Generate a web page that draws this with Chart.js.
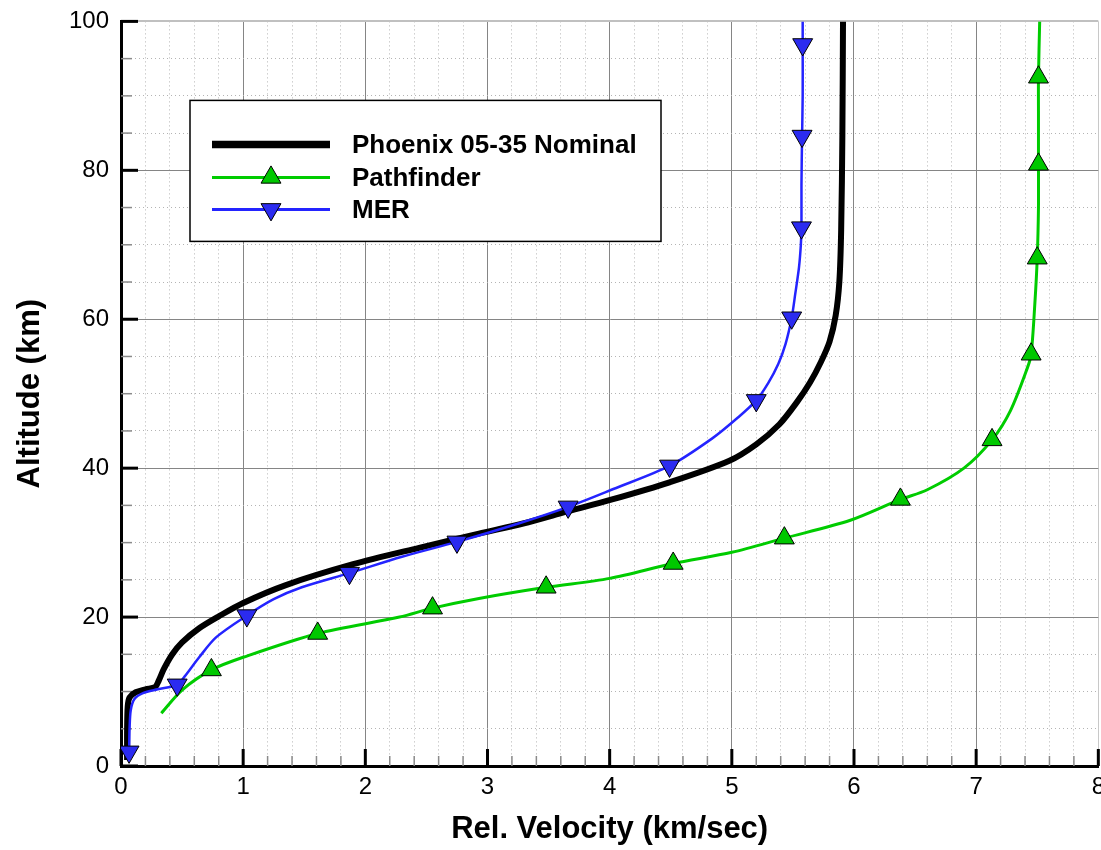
<!DOCTYPE html>
<html>
<head>
<meta charset="utf-8">
<script src="https://cdn.jsdelivr.net/npm/chart.js@4.4.1/dist/chart.umd.min.js"></script>
<style>
html,body{margin:0;padding:0;background:#fff;overflow:hidden;width:1101px;height:850px;}
canvas{display:block;margin-top:-5px;}
</style>
</head>
<body>
<canvas id="c" width="1112" height="855" style="width:1112px;height:855px"></canvas>
<script>
// ---------------- data ----------------
const seriesNames = ['Phoenix 05-35 Nominal', 'Pathfinder', 'MER'];
const xTickLabels = ['0','1','2','3','4','5','6','7','8'];
const yTickLabels = ['0','20','40','60','80','100'];
const xTitle = 'Rel. Velocity (km/sec)';
const yTitle = 'Altitude (km)';

// Phoenix 05-35 Nominal (velocity km/s, altitude km)
const phoenixV = [0.05,0.05,0.055,0.07,0.12,0.2,0.28,0.31,0.35,0.42,0.5,0.64,0.8,1.0,1.35,1.9,2.44,2.93,3.3,3.61,4.02,4.49,4.98,5.2,5.39,5.53,5.64,5.73,5.8,5.85,5.88,5.895,5.905,5.91];
const phoenixH = [0.8,5,8,9.2,9.9,10.3,10.6,11.5,13.0,15.0,16.6,18.5,20.1,21.9,24.3,27.1,29.3,31.2,32.6,34.0,35.8,38.1,41.0,43.2,45.9,48.8,51.5,54.3,57,60.5,65,72,85,100];

// Pathfinder
const pathV = [0.33,0.5,0.74,1.0,1.61,2.28,2.55,2.93,3.48,4.0,4.52,5.0,5.43,5.97,6.38,6.6,6.9,7.13,7.28,7.42,7.45,7.48,7.5,7.51,7.51,7.51,7.51,7.52];
const pathH = [7.1,10.2,12.9,14.6,17.8,20.0,21.2,22.5,24.0,25.2,27.2,28.7,30.6,33.0,35.8,37.1,40.0,43.8,47.7,53.5,55.3,62,68.2,75,80.8,88,92.5,100];
const pathMarkV = [0.74,1.61,2.55,3.48,4.52,5.43,6.38,7.13,7.45,7.5,7.51,7.51];
const pathMarkH = [12.9,17.8,21.2,24.0,27.2,30.6,35.8,43.8,55.3,68.2,80.8,92.5];

// MER
const merV = [0.06,0.066,0.07,0.08,0.11,0.18,0.3,0.46,0.52,0.64,0.78,1.03,1.25,1.48,1.87,2.3,2.75,3.26,3.66,4.03,4.49,4.84,5.05,5.2,5.3,5.38,5.44,5.49,5.52,5.55,5.565,5.57,5.57,5.575,5.58,5.58,5.58];
const merH = [1.0,1.9,5,7.5,9.0,9.8,10.3,10.9,12,14.6,17.3,20.2,22.4,24.0,25.9,28.1,30.1,32.6,34.8,37.2,40.3,44.0,46.8,49.1,51.5,54,56.7,60.2,63.5,67,70,72.3,78,84.6,90,96.9,100];
const merMarkV = [0.066,0.46,1.03,1.87,2.75,3.66,4.49,5.2,5.49,5.57,5.575,5.58];
const merMarkH = [1.9,10.9,20.2,25.9,30.1,34.8,40.3,49.1,60.2,72.3,84.6,96.9];

// ---------------- helpers ----------------
const pts = (vs, hs) => vs.map((v, i) => ({x: v, y: hs[i]}));
const isMajorX = v => Math.abs(v - Math.round(v)) < 1e-6;
const isMajorY = v => Math.abs(v / 20 - Math.round(v / 20)) < 1e-6;

const FONT = "'Liberation Sans', Arial, Helvetica, sans-serif";
const BLACK = '#000000';
const GREEN = '#00cc00';
const GREEN_FILL = '#00c800';
const BLUE = '#2424ff';
const BLUE_FILL = '#2b2bf0';
const MARK_R = 11.5;

function drawTri(ctx, x, y, r, down, fill) {
  ctx.beginPath();
  for (let k = 0; k < 3; k++) {
    const a = (down ? Math.PI : 0) + k * 2 * Math.PI / 3;
    const px = x + Math.sin(a) * r, py = y - Math.cos(a) * r;
    if (k === 0) ctx.moveTo(px, py); else ctx.lineTo(px, py);
  }
  ctx.closePath();
  ctx.fillStyle = fill; ctx.fill();
  ctx.lineWidth = 1; ctx.strokeStyle = '#000'; ctx.stroke();
}

// inward tick marks (Tecplot style)
const innerTicks = {
  id: 'innerTicks',
  beforeDatasetsDraw(chart) {
    const {ctx, chartArea: a, scales: {x, y}} = chart;
    ctx.save();
    x.ticks.forEach(t => {
      const px = x.getPixelForValue(t.value);
      const major = isMajorX(t.value);
      ctx.strokeStyle = major ? '#000' : '#8a8a8a';
      ctx.lineWidth = major ? 3 : 1.5;
      ctx.beginPath();
      ctx.moveTo(px, a.bottom);
      ctx.lineTo(px, a.bottom - (major ? 17 : 10));
      ctx.stroke();
    });
    y.ticks.forEach(t => {
      const py = y.getPixelForValue(t.value);
      const major = isMajorY(t.value);
      ctx.strokeStyle = major ? '#000' : '#8a8a8a';
      ctx.lineWidth = major ? 3 : 1.5;
      ctx.beginPath();
      ctx.moveTo(a.left, py);
      ctx.lineTo(a.left + (major ? 17 : 11), py);
      ctx.stroke();
    });
    ctx.restore();
  }
};

// legend box: line sample with centred marker
const legendBox = {
  id: 'legendBox',
  afterDatasetsDraw(chart) {
    const ctx = chart.ctx;
    const a = chart.chartArea;
    const bx = a.left + 69, by = a.top + 79, bw = 471, bh = 141;
    ctx.save();
    ctx.fillStyle = '#fff';
    ctx.fillRect(bx, by, bw, bh);
    ctx.strokeStyle = '#000';
    ctx.lineWidth = 1.5;
    ctx.strokeRect(bx, by, bw, bh);
    const rows = [
      {dy: 44, color: BLACK, w: 7.5, mark: null},
      {dy: 77, color: GREEN, w: 3, mark: {down: false, fill: GREEN_FILL}},
      {dy: 109, color: BLUE, w: 3, mark: {down: true, fill: BLUE_FILL}}
    ];
    rows.forEach((r, i) => {
      const y = by + r.dy;
      ctx.strokeStyle = r.color;
      ctx.lineWidth = r.w;
      ctx.beginPath();
      ctx.moveTo(bx + 22, y);
      ctx.lineTo(bx + 140, y);
      ctx.stroke();
      if (r.mark) drawTri(ctx, bx + 81, y, MARK_R, r.mark.down, r.mark.fill);
      ctx.fillStyle = '#000';
      ctx.font = 'bold 26px ' + FONT;
      ctx.textAlign = 'left';
      ctx.textBaseline = 'middle';
      ctx.fillText(seriesNames[i], bx + 162, y + 1);
    });
    ctx.restore();
  }
};

const lineDs = (label, data, color, width) => ({
  label, data, showLine: true, borderColor: color, borderWidth: width,
  pointRadius: 0, pointHoverRadius: 0, tension: 0.3, fill: false
});
const markDs = (label, data, fill, rot) => ({
  label, data, showLine: false, pointStyle: 'triangle', pointRotation: rot,
  pointRadius: MARK_R, pointHoverRadius: MARK_R, backgroundColor: fill,
  borderColor: '#000', pointBorderWidth: 1, borderWidth: 1
});

new Chart(document.getElementById('c'), {
  type: 'scatter',
  data: {
    datasets: [
      markDs(seriesNames[2] + ' symbols', pts(merMarkV, merMarkH), BLUE_FILL, 180),
      markDs(seriesNames[1] + ' symbols', pts(pathMarkV, pathMarkH), GREEN_FILL, 0),
      lineDs(seriesNames[2], pts(merV, merH), BLUE, 2.5),
      lineDs(seriesNames[1], pts(pathV, pathH), GREEN, 3),
      lineDs(seriesNames[0], pts(phoenixV, phoenixH), BLACK, 6)
    ]
  },
  options: {
    responsive: false,
    animation: false,
    devicePixelRatio: 1,
    layout: {padding: {left: 0, top: 20, right: 0, bottom: 0}},
    plugins: {legend: {display: false}, tooltip: {enabled: false}},
    scales: {
      x: {
        type: 'linear', min: 0, max: 8,
        afterFit: s => { s.height = 84; },
        ticks: {
          stepSize: 0.2, autoSkip: false, maxRotation: 0, padding: 7,
          color: '#000', font: {family: FONT, size: 24},
          callback: v => isMajorX(v) ? xTickLabels[Math.round(v)] : ''
        },
        grid: {
          drawTicks: false,
          color: c => {
            const v = c.tick ? c.tick.value : 0;
            if (Math.abs(v - 8) < 1e-6) return '#c8c8c8';
            return isMajorX(v) ? '#858585' : '#b4b4b4';
          },
          lineWidth: 1
        },
        border: {
          color: '#000', width: 3,
          dash: c => (c.tick && !isMajorX(c.tick.value)) ? [1, 3] : []
        },
        title: {
          display: true, text: xTitle, color: '#000',
          font: {family: FONT, size: 31, weight: 'bold'},
          padding: {top: 0, bottom: 2}
        }
      },
      y: {
        type: 'linear', min: 0, max: 100,
        afterFit: s => { s.width = 121; },
        ticks: {
          stepSize: 5, autoSkip: false, padding: 12,
          color: '#000', font: {family: FONT, size: 24},
          callback: v => isMajorY(v) ? yTickLabels[Math.round(v / 20)] : ''
        },
        grid: {
          drawTicks: false,
          color: c => {
            const v = c.tick ? c.tick.value : 0;
            if (Math.abs(v - 100) < 1e-6) return '#c0c0c0';
            return isMajorY(v) ? '#858585' : '#b4b4b4';
          },
          lineWidth: c => (c.tick && Math.abs(c.tick.value - 100) < 1e-6) ? 2 : 1
        },
        border: {
          color: '#000', width: 3,
          dash: c => (c.tick && !isMajorY(c.tick.value)) ? [1, 3] : []
        },
        title: {
          display: true, text: yTitle, color: '#000',
          font: {family: FONT, size: 31, weight: 'bold'},
          padding: {top: 12, bottom: 0}
        }
      }
    }
  },
  plugins: [innerTicks, legendBox]
});
</script>
</body>
</html>
